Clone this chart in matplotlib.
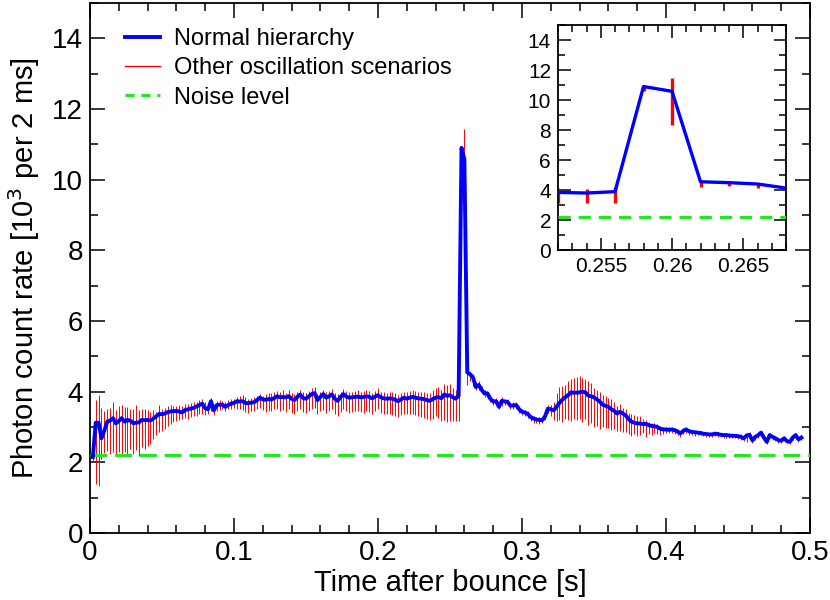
import matplotlib.pyplot as plt
import numpy as np
from matplotlib.lines import Line2D
from matplotlib.ticker import MultipleLocator, FixedLocator

plt.rcParams["font.family"] = ["Liberation Sans", "DejaVu Sans"]

BIN_S = 0.002        # width of one time bin [s], first bin at t = 2 ms
NOISE_LEVEL = 2.2    # background photon rate [10^3 per 2 ms]

# normal hierarchy, one value per 2 ms bin (t = 0.002 ... 0.494 s)
RATE_NH = [
    2.15, 3.12, 3.12, 2.68, 2.90, 3.15, 3.18, 3.25, 3.10, 3.17,
    3.25, 3.15, 3.20, 3.18, 3.11, 3.12, 3.13, 3.20, 3.19, 3.20,
    3.18, 3.24, 3.30, 3.37, 3.36, 3.38, 3.42, 3.44, 3.45, 3.45,
    3.44, 3.41, 3.48, 3.50, 3.52, 3.54, 3.58, 3.62, 3.66, 3.53,
    3.50, 3.73, 3.47, 3.62, 3.63, 3.63, 3.57, 3.62, 3.66, 3.68,
    3.73, 3.72, 3.73, 3.68, 3.67, 3.69, 3.70, 3.76, 3.83, 3.78,
    3.77, 3.79, 3.78, 3.82, 3.87, 3.84, 3.85, 3.84, 3.87, 3.80,
    3.76, 3.85, 3.92, 3.82, 3.80, 3.87, 3.93, 3.96, 3.76, 3.85,
    3.93, 3.83, 3.87, 3.92, 3.80, 3.74, 3.85, 3.93, 3.86, 3.83,
    3.84, 3.85, 3.86, 3.84, 3.85, 3.87, 3.85, 3.81, 3.86, 3.90,
    3.84, 3.81, 3.80, 3.81, 3.80, 3.77, 3.73, 3.78, 3.83, 3.80,
    3.83, 3.85, 3.83, 3.81, 3.80, 3.79, 3.76, 3.74, 3.79, 3.83,
    3.85, 3.81, 3.92, 3.88, 3.90, 3.84, 3.80, 3.89, 10.90, 10.58,
    4.55, 4.49, 4.40, 4.13, 4.19, 4.05, 3.95, 3.95, 3.80, 3.72,
    3.73, 3.57, 3.74, 3.72, 3.71, 3.60, 3.61, 3.62, 3.50, 3.43,
    3.41, 3.37, 3.28, 3.24, 3.21, 3.20, 3.19, 3.30, 3.52, 3.50,
    3.47, 3.57, 3.68, 3.77, 3.84, 3.90, 3.98, 3.97, 3.97, 3.98,
    4.00, 3.98, 3.89, 3.87, 3.84, 3.78, 3.72, 3.63, 3.60, 3.57,
    3.50, 3.46, 3.38, 3.43, 3.38, 3.33, 3.22, 3.15, 3.12, 3.10,
    3.10, 3.08, 3.09, 3.05, 3.03, 3.02, 3.00, 2.95, 2.93, 2.93,
    2.92, 2.93, 2.91, 2.87, 2.82, 2.89, 2.93, 2.88, 2.86, 2.85,
    2.84, 2.83, 2.81, 2.80, 2.79, 2.79, 2.81, 2.80, 2.78, 2.77,
    2.77, 2.76, 2.75, 2.75, 2.74, 2.72, 2.68, 2.76, 2.78, 2.62,
    2.72, 2.77, 2.84, 2.70, 2.58, 2.77, 2.72, 2.68, 2.63, 2.61,
    2.68, 2.60, 2.58, 2.70, 2.77, 2.65, 2.70,
]

# envelope of the other oscillation scenarios (lowest / highest rate per bin)
RATE_LO = [
    2.00, 1.39, 1.32, 2.10, 2.25, 2.33, 2.24, 2.28, 2.24, 2.28,
    2.24, 2.28, 2.24, 2.38, 2.24, 2.36, 2.19, 2.43, 2.38, 2.45,
    2.52, 2.66, 2.76, 2.85, 2.90, 2.95, 3.04, 3.08, 3.14, 3.18,
    3.20, 3.22, 3.25, 3.24, 3.28, 3.30, 3.30, 3.36, 3.38, 3.35,
    3.36, 3.45, 3.35, 3.44, 3.48, 3.50, 3.45, 3.50, 3.52, 3.55,
    3.52, 3.50, 3.48, 3.42, 3.40, 3.45, 3.44, 3.50, 3.55, 3.48,
    3.42, 3.46, 3.45, 3.50, 3.52, 3.45, 3.48, 3.42, 3.52, 3.40,
    3.38, 3.45, 3.50, 3.42, 3.40, 3.45, 3.52, 3.55, 3.38, 3.44,
    3.48, 3.40, 3.44, 3.50, 3.38, 3.32, 3.42, 3.50, 3.44, 3.40,
    3.42, 3.45, 3.44, 3.42, 3.40, 3.46, 3.42, 3.38, 3.44, 3.50,
    3.40, 3.38, 3.36, 3.38, 3.35, 3.32, 3.28, 3.34, 3.38, 3.36,
    3.36, 3.38, 3.34, 3.30, 3.28, 3.26, 3.22, 3.20, 3.24, 3.30,
    3.25, 3.18, 3.20, 3.15, 3.18, 3.16, 3.16, 3.16, 10.60, 8.33,
    4.20, 4.29, 4.15, 4.05, 4.05, 3.95, 3.85, 3.85, 3.70, 3.62,
    3.65, 3.50, 3.60, 3.62, 3.62, 3.52, 3.52, 3.54, 3.40, 3.33,
    3.32, 3.26, 3.16, 3.12, 3.10, 3.08, 3.10, 3.20, 3.40, 3.32,
    3.20, 3.18, 3.20, 3.15, 3.22, 3.20, 3.18, 3.22, 3.20, 3.22,
    3.15, 3.22, 3.05, 3.10, 3.00, 3.02, 2.95, 3.00, 2.96, 2.98,
    2.92, 2.95, 2.88, 2.90, 2.86, 2.85, 2.80, 2.75, 2.80, 2.74,
    2.78, 2.82, 2.72, 2.80, 2.78, 2.82, 2.80, 2.78, 2.80, 2.82,
    2.82, 2.84, 2.80, 2.78, 2.72, 2.80, 2.82, 2.78, 2.76, 2.74,
    2.76, 2.76, 2.74, 2.73, 2.72, 2.72, 2.74, 2.73, 2.71, 2.70,
    2.70, 2.70, 2.69, 2.68, 2.66, 2.64, 2.60, 2.58, 2.70, 2.55,
    2.64, 2.70, 2.76, 2.62, 2.52, 2.70, 2.64, 2.60, 2.56, 2.55,
    2.62, 2.54, 2.52, 2.64, 2.70, 2.58, 2.64,
]

RATE_HI = [
    2.35, 3.75, 3.90, 3.55, 3.45, 3.50, 3.55, 3.70, 3.47, 3.60,
    3.61, 3.56, 3.56, 3.50, 3.51, 3.61, 3.47, 3.51, 3.51, 3.49,
    3.42, 3.47, 3.42, 3.61, 3.51, 3.55, 3.60, 3.62, 3.58, 3.60,
    3.62, 3.58, 3.64, 3.66, 3.68, 3.70, 3.72, 3.75, 3.78, 3.70,
    3.68, 3.82, 3.62, 3.74, 3.75, 3.74, 3.70, 3.76, 3.78, 3.80,
    3.84, 3.88, 3.90, 3.86, 3.80, 3.82, 3.84, 3.88, 3.92, 3.88,
    3.92, 3.95, 3.96, 4.00, 4.02, 3.98, 4.04, 3.96, 4.06, 3.96,
    3.92, 4.00, 4.06, 3.98, 3.95, 4.02, 4.10, 4.14, 3.92, 4.00,
    4.06, 3.98, 4.02, 4.08, 3.96, 3.92, 4.00, 4.08, 4.02, 3.98,
    4.00, 4.02, 4.04, 4.00, 4.02, 4.05, 4.02, 3.96, 4.02, 4.10,
    4.00, 3.98, 3.96, 3.98, 4.00, 3.95, 3.90, 3.95, 4.00, 3.98,
    4.02, 4.04, 4.02, 4.00, 4.00, 3.98, 3.96, 3.96, 4.04, 4.10,
    4.14, 4.05, 4.22, 4.20, 4.22, 4.11, 4.04, 4.18, 10.96, 11.44,
    4.62, 4.55, 4.50, 4.28, 4.30, 4.15, 4.05, 4.02, 3.90, 3.80,
    3.82, 3.66, 3.85, 3.80, 3.80, 3.68, 3.70, 3.70, 3.58, 3.50,
    3.48, 3.44, 3.35, 3.30, 3.28, 3.27, 3.26, 3.40, 3.62, 3.62,
    3.70, 3.95, 4.14, 4.15, 4.20, 4.30, 4.35, 4.40, 4.42, 4.44,
    4.40, 4.35, 4.30, 4.25, 4.10, 4.05, 3.98, 3.90, 3.88, 3.82,
    3.78, 3.72, 3.60, 3.66, 3.55, 3.50, 3.40, 3.38, 3.35, 3.30,
    3.30, 3.22, 3.20, 3.15, 3.12, 3.10, 3.08, 3.02, 3.00, 3.00,
    3.00, 3.00, 2.98, 2.95, 2.90, 2.96, 3.00, 2.94, 2.92, 2.90,
    2.90, 2.88, 2.86, 2.86, 2.84, 2.84, 2.86, 2.86, 2.83, 2.82,
    2.82, 2.81, 2.80, 2.80, 2.80, 2.80, 2.78, 2.75, 2.85, 2.70,
    2.78, 2.82, 2.90, 2.76, 2.64, 2.82, 2.78, 2.74, 2.68, 2.66,
    2.74, 2.66, 2.64, 2.76, 2.82, 2.70, 2.75,
]

X_TICKS = [0, 0.1, 0.2, 0.3, 0.4, 0.5]
X_TICK_LABELS = ["0", "0.1", "0.2", "0.3", "0.4", "0.5"]
INSET_X_TICKS = [0.255, 0.26, 0.265]
INSET_X_TICK_LABELS = ["0.255", "0.26", "0.265"]
Y_TICKS = [0, 2, 4, 6, 8, 10, 12, 14]

LEGEND_LABELS = ["Normal hierarchy", "Other oscillation scenarios", "Noise level"]

NH_COLOR = "#0000ff"
OSC_COLOR = "#ff0000"
NOISE_COLOR = "#22e622"


def style_axes(ax, major_len, minor_len, labelsize):
    for sp in ax.spines.values():
        sp.set_linewidth(1.3)
    ax.tick_params(which="both", direction="in", top=True, right=True,
                   width=1.1, labelsize=labelsize)
    ax.tick_params(which="major", length=major_len, pad=5)
    ax.tick_params(which="minor", length=minor_len)


def draw_data(ax, t, lw_bar, lw_line, dash):
    ax.vlines(t, RATE_LO, RATE_HI, color=OSC_COLOR, linewidth=lw_bar, zorder=2)
    ax.axhline(NOISE_LEVEL, color=NOISE_COLOR, linewidth=2.2,
               dashes=dash, zorder=3)
    ax.plot(t, RATE_NH, color=NH_COLOR, linewidth=lw_line, zorder=4)


def main():
    t = BIN_S * np.arange(1, len(RATE_NH) + 1)

    fig = plt.figure(figsize=(8.3, 6), dpi=100)

    # ── main panel ────────────────────────────────────────────────────────
    ax = fig.add_axes([0.1084, 0.1117, 0.8675, 0.8833])
    draw_data(ax, t, 0.7, 2.8, (5.5, 2.6))
    ax.set_xlim(0, 0.5)
    ax.set_ylim(0, 15)
    ax.xaxis.set_major_locator(FixedLocator(X_TICKS))
    ax.xaxis.set_minor_locator(MultipleLocator(0.02))
    ax.yaxis.set_major_locator(FixedLocator(Y_TICKS))
    ax.yaxis.set_minor_locator(MultipleLocator(1))
    ax.set_xticklabels(X_TICK_LABELS)
    style_axes(ax, 11, 6, 20)
    ax.set_xlabel("Time after bounce [s]", fontsize=21, labelpad=2)
    ax.set_ylabel("Photon count rate [10$^3$ per 2 ms]", fontsize=21,
                  labelpad=7)

    handles = [
        Line2D([], [], color=NH_COLOR, linewidth=2.8),
        Line2D([], [], color=OSC_COLOR, linewidth=1.0),
        Line2D([], [], color=NOISE_COLOR, linewidth=2.2, dashes=(3.0, 2.2)),
    ]
    ax.legend(handles, LEGEND_LABELS, loc="upper left", frameon=False,
              fontsize=17, handlelength=1.5, handletextpad=0.6,
              labelspacing=0.3, borderaxespad=0,
              bbox_to_anchor=(0.035, 0.97))

    # ── inset: zoom on the burst ─────────────────────────────────────────
    ins = fig.add_axes([0.6723, 0.5833, 0.2747, 0.375])
    draw_data(ins, t, 2.4, 2.4, (4.0, 2.6))
    ins.set_xlim(0.252, 0.268)
    ins.set_ylim(0, 15)
    ins.xaxis.set_major_locator(FixedLocator(INSET_X_TICKS))
    ins.xaxis.set_minor_locator(MultipleLocator(0.001))
    ins.yaxis.set_major_locator(FixedLocator(Y_TICKS))
    ins.yaxis.set_minor_locator(MultipleLocator(1))
    ins.set_xticklabels(INSET_X_TICK_LABELS)
    style_axes(ins, 9, 5, 15)

    fig.savefig("out.png", dpi=100)
    plt.close(fig)


if __name__ == "__main__":
    main()
